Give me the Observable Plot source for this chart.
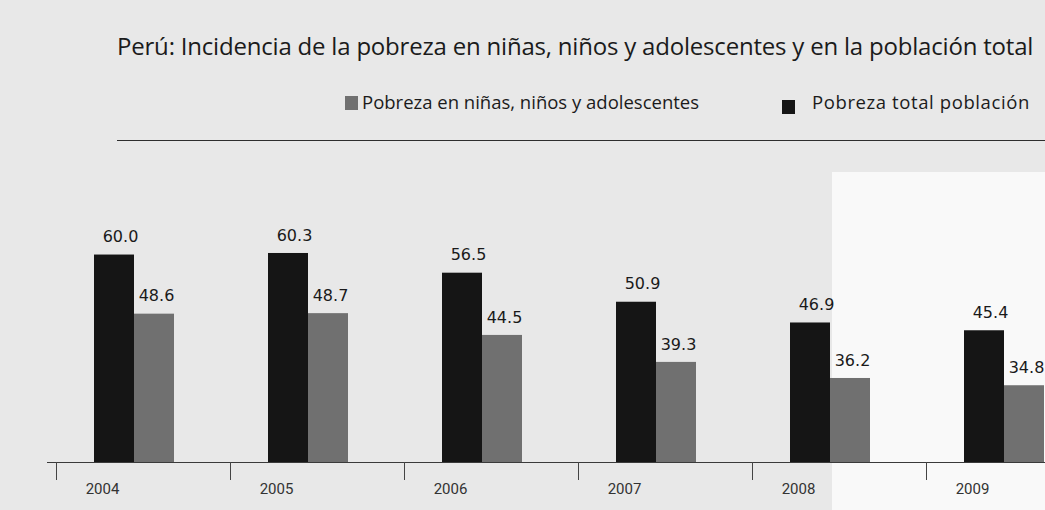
<!DOCTYPE html>
<html><head><meta charset="utf-8">
<script src="https://cdn.jsdelivr.net/npm/d3@7"></script>
<script src="https://cdn.jsdelivr.net/npm/@observablehq/plot@0.6"></script>
<style>
body{margin:0;background:#e8e8e8;width:1045px;height:510px;overflow:hidden;position:relative;font-family:"Open Sans",sans-serif;}
#paper{position:absolute;left:832px;top:172px;width:213px;height:338px;background:#f9f9f9;}
#title{position:absolute;left:117px;top:29px;font-size:24px;color:#1b1b1b;white-space:nowrap;letter-spacing:-0.2px;}
.leg{position:absolute;font-size:18.5px;color:#1b1b1b;white-space:nowrap;}
.sw{position:absolute;display:block;}
#rule{position:absolute;left:117px;top:140px;width:928px;height:0;border-top:1.5px solid #2e2e2e;}
#chart{position:absolute;left:0;top:150px;}
</style></head>
<body>
<div id="paper"></div>
<div id="title">Perú: Incidencia de la pobreza en niñas, niños y adolescentes y en la población total</div>
<div id="legend"></div>
<div id="rule"></div>
<div id="chart"></div>
<script>
const years = ["2004", "2005", "2006", "2007", "2008", "2009"];
const totalPoverty = [60.0, 60.3, 56.5, 50.9, 46.9, 45.4];
const childPoverty = [48.6, 48.7, 44.5, 39.3, 36.2, 34.8];
const seriesNames = ["Pobreza total población", "Pobreza en niñas, niños y adolescentes"];
const seriesColors = ["#151515", "#707070"];
const yBase = 20;

const rows = [];
years.forEach((y, i) => {
  rows.push({year: y, series: seriesNames[0], value: totalPoverty[i]});
  rows.push({year: y, series: seriesNames[1], value: childPoverty[i]});
});

// legend (HTML, colours from same arrays)
const legend = document.getElementById("legend");
const legItems = [
  {name: seriesNames[1], color: seriesColors[1], sx: 345, sy: 96, tx: 362, ty: 89, ls: 0},
  {name: seriesNames[0], color: seriesColors[0], sx: 782, sy: 100, tx: 812, ty: 89, ls: 0.6}
];
legItems.forEach(it => {
  const s = document.createElement("span");
  s.className = "sw";
  s.style.cssText = `left:${it.sx}px;top:${it.sy}px;width:13px;height:14px;background:${it.color}`;
  legend.appendChild(s);
  const t = document.createElement("span");
  t.className = "leg";
  t.style.left = it.tx + "px"; t.style.top = it.ty + "px"; t.style.letterSpacing = it.ls + "px";
  t.textContent = it.name;
  legend.appendChild(t);
});

const chart = Plot.plot({
  width: 1045, height: 360,
  marginLeft: 45, marginRight: -47, marginTop: 20, marginBottom: 48,
  style: {background: "transparent", overflow: "visible"},
  fx: {domain: years, paddingInner: 0.541, paddingOuter: 0.2755, label: null},
  x: {domain: seriesNames, padding: 0, axis: null},
  y: {domain: [yBase, 76.3], axis: null},
  color: {domain: seriesNames, range: seriesColors},
  marks: [
    Plot.ruleY([yBase], {stroke: "#3a3a3a", strokeWidth: 1.2, insetLeft: -47, insetRight: -47}),
    Plot.barY(rows, {fx: "year", x: "series", y1: yBase, y2: "value", fill: "series"}),
    Plot.text(rows.filter(d => d.series === seriesNames[0]), {fx: "year", x: "series", y: "value", text: d => d.value.toFixed(1),
      dy: -18, dx: 6, fontSize: 16, fontFamily: "DejaVu Sans", fill: "#1a1a1a"}),
    Plot.text(rows.filter(d => d.series === seriesNames[1]), {fx: "year", x: "series", y: "value", text: d => d.value.toFixed(1),
      dy: -18, dx: 2, fontSize: 16, fontFamily: "DejaVu Sans", fill: "#1a1a1a"}),
    Plot.axisFx({anchor: "bottom", tickSize: 18, text: null, dx: -78, stroke: "#444", label: null}),
    Plot.axisFx({anchor: "bottom", tickSize: 0, tickPadding: 21, dx: -32, fontSize: 15, fontFamily: "Roboto",
      fill: "#333", label: null})
  ]
});
document.getElementById("chart").appendChild(chart);
</script>
</body></html>
